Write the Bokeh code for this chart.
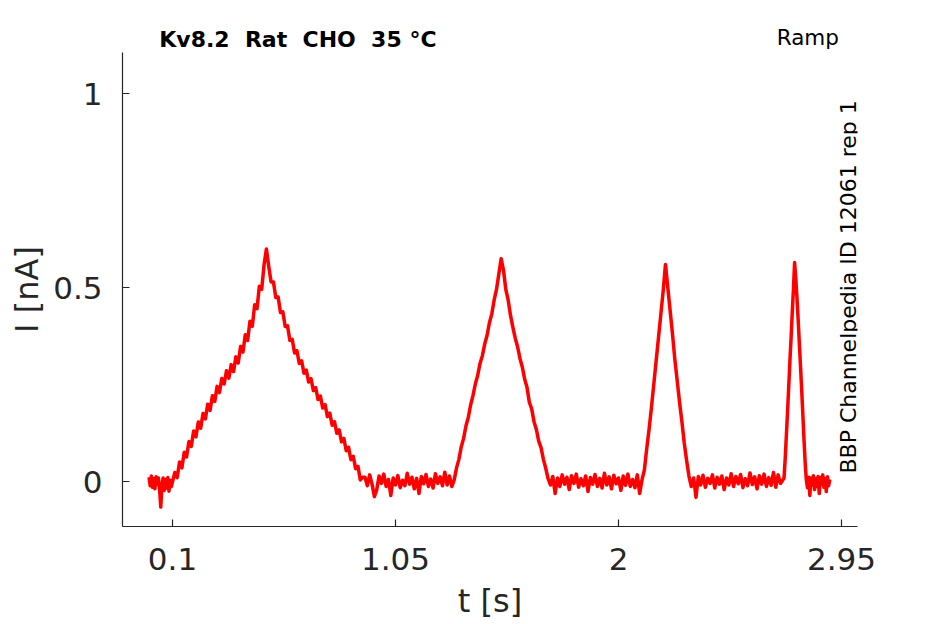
import numpy as np
from bokeh.plotting import figure
from bokeh.layouts import column
from bokeh.models import Range1d, FixedTicker, Label
from bokeh.embed import file_html
from bokeh.resources import INLINE

# ---------------- data ----------------
# segment A: baseline before first ramp
t_a = [0.000, 0.005, 0.010, 0.015, 0.020, 0.025, 0.030, 0.035, 0.040, 0.045,
       0.050, 0.055, 0.060, 0.065, 0.070, 0.075, 0.080, 0.085, 0.090, 0.095]
i_a = [0.012, -0.010, 0.015, -0.014, 0.008, -0.018, 0.013, -0.006, 0.010, -0.020,
       -0.065, -0.012, 0.010, -0.022, 0.006, -0.016, 0.011, -0.024, 0.004, -0.012]

# segment B: first ramp (slow), up and down
t_b = [0.10, 0.11, 0.12, 0.13, 0.14, 0.15, 0.16, 0.17, 0.18, 0.19,
       0.20, 0.21, 0.22, 0.23, 0.24, 0.25, 0.26, 0.27, 0.28, 0.29,
       0.30, 0.31, 0.32, 0.33, 0.34, 0.35, 0.36, 0.37, 0.38, 0.39,
       0.40, 0.41, 0.42, 0.43, 0.44, 0.45, 0.46, 0.47, 0.48, 0.49,
       0.50, 0.51, 0.52, 0.53, 0.54, 0.55, 0.56, 0.57, 0.58, 0.59,
       0.60, 0.61, 0.62, 0.63, 0.64, 0.65, 0.66, 0.67, 0.68, 0.69,
       0.70, 0.71, 0.72, 0.73, 0.74, 0.75, 0.76, 0.77, 0.78, 0.79,
       0.80, 0.81, 0.82, 0.83, 0.84, 0.85, 0.86, 0.87, 0.88, 0.89,
       0.90, 0.91]
i_b = [0.000, 0.024, 0.011, 0.051, 0.036, 0.076, 0.064, 0.104, 0.091, 0.131,
       0.116, 0.154, 0.138, 0.176, 0.162, 0.200, 0.184, 0.222, 0.207, 0.246,
       0.230, 0.266, 0.252, 0.286, 0.267, 0.302, 0.284, 0.322, 0.306, 0.349,
       0.334, 0.379, 0.364, 0.414, 0.401, 0.456, 0.446, 0.504, 0.496, 0.559,
       0.600, 0.555, 0.515, 0.515, 0.475, 0.476, 0.436, 0.438, 0.400, 0.402,
       0.364, 0.367, 0.332, 0.338, 0.305, 0.312, 0.280, 0.288, 0.257, 0.266,
       0.235, 0.243, 0.212, 0.221, 0.190, 0.199, 0.168, 0.177, 0.146, 0.155,
       0.125, 0.134, 0.103, 0.112, 0.080, 0.089, 0.057, 0.066, 0.034, 0.040,
       0.005, 0.012]

# segment C: baseline
t_c = [0.92, 0.93, 0.94, 0.95, 0.96, 0.97, 0.98, 0.99, 1.00, 1.01,
       1.02, 1.03, 1.04, 1.05, 1.06, 1.07, 1.08, 1.09, 1.10, 1.11,
       1.12, 1.13, 1.14, 1.15, 1.16, 1.17, 1.18, 1.19, 1.20, 1.21,
       1.22, 1.23, 1.24, 1.25, 1.26, 1.27, 1.28, 1.29]
i_c = [0.012, -0.010, 0.018, -0.006, -0.038, -0.020, 0.015, -0.004, 0.020, -0.012,
       0.006, -0.035, 0.010, -0.008, 0.016, -0.015, 0.004, -0.010, 0.022, -0.006,
       0.012, -0.018, 0.009, -0.030, 0.014, -0.005, 0.019, -0.012, 0.007, -0.016,
       0.021, -0.004, 0.013, -0.010, 0.025, -0.008, 0.015, -0.012]

# segment D: second ramp
t_d = [1.30, 1.31, 1.32, 1.33, 1.34, 1.35, 1.36, 1.37, 1.38, 1.39,
       1.40, 1.41, 1.42, 1.43, 1.44, 1.45, 1.46, 1.47, 1.48, 1.49,
       1.50, 1.51, 1.52, 1.53, 1.54, 1.55, 1.56, 1.57, 1.58, 1.59,
       1.60, 1.61, 1.62, 1.63, 1.64, 1.65, 1.66, 1.67, 1.68, 1.69,
       1.70]
i_d = [0.005, 0.036, 0.058, 0.090, 0.112, 0.144, 0.166, 0.198, 0.222, 0.252,
       0.274, 0.305, 0.325, 0.355, 0.377, 0.410, 0.432, 0.468, 0.495, 0.535,
       0.575, 0.545, 0.495, 0.468, 0.428, 0.398, 0.370, 0.348, 0.318, 0.296,
       0.265, 0.244, 0.205, 0.188, 0.155, 0.135, 0.105, 0.088, 0.058, 0.035,
       0.008]

# segment E: baseline
t_e = [1.71, 1.72, 1.73, 1.74, 1.75, 1.76, 1.77, 1.78, 1.79, 1.80,
       1.81, 1.82, 1.83, 1.84, 1.85, 1.86, 1.87, 1.88, 1.89, 1.90,
       1.91, 1.92, 1.93, 1.94, 1.95, 1.96, 1.97, 1.98, 1.99, 2.00,
       2.01, 2.02, 2.03, 2.04, 2.05, 2.06, 2.07, 2.08, 2.09]
i_e = [-0.008, 0.014, -0.030, 0.010, -0.012, 0.018, -0.006, 0.012, -0.020, 0.016,
       -0.004, 0.020, -0.014, 0.008, -0.010, 0.015, -0.025, 0.011, -0.006, 0.019,
       -0.012, 0.009, -0.016, 0.022, -0.008, 0.013, -0.018, 0.017, -0.005, 0.010,
       -0.022, 0.015, -0.009, 0.020, -0.012, 0.006, -0.015, 0.018, -0.030]

# segment F: third ramp
t_f = [2.10, 2.11, 2.12, 2.13, 2.14, 2.15, 2.16, 2.17, 2.18, 2.19,
       2.20, 2.21, 2.22, 2.23, 2.24, 2.25, 2.26, 2.27, 2.28, 2.29,
       2.30]
i_f = [0.005, 0.030, 0.085, 0.135, 0.190, 0.250, 0.310, 0.370, 0.430, 0.490,
       0.560, 0.500, 0.440, 0.380, 0.315, 0.260, 0.205, 0.155, 0.100, 0.055,
       0.015]

# segment G: baseline
t_g = [2.31, 2.32, 2.33, 2.34, 2.35, 2.36, 2.37, 2.38, 2.39, 2.40,
       2.41, 2.42, 2.43, 2.44, 2.45, 2.46, 2.47, 2.48, 2.49, 2.50,
       2.51, 2.52, 2.53, 2.54, 2.55, 2.56, 2.57, 2.58, 2.59, 2.60,
       2.61, 2.62, 2.63, 2.64, 2.65, 2.66, 2.67, 2.68, 2.69]
i_g = [-0.012, 0.010, -0.040, 0.014, -0.008, 0.017, -0.014, 0.009, -0.004, 0.018,
       -0.016, 0.012, -0.006, 0.015, -0.020, 0.010, -0.008, 0.021, -0.012, 0.014,
       -0.005, 0.019, -0.015, 0.008, -0.010, 0.023, -0.007, 0.013, -0.018, 0.016,
       -0.006, 0.020, -0.012, 0.011, -0.009, 0.024, -0.014, 0.018, -0.004]

# segment H: fourth ramp (fast)
t_h = [2.700, 2.705, 2.710, 2.715, 2.720, 2.725, 2.730, 2.735, 2.740, 2.745,
       2.750, 2.755, 2.760, 2.765, 2.770, 2.775, 2.780, 2.785, 2.790, 2.795,
       2.800]
i_h = [0.005, 0.010, 0.060, 0.120, 0.180, 0.245, 0.310, 0.370, 0.435, 0.495,
       0.565, 0.525, 0.475, 0.420, 0.360, 0.300, 0.240, 0.175, 0.110, 0.050,
       0.005]

# segment I: final baseline
t_i = [2.805, 2.810, 2.815, 2.820, 2.825, 2.830, 2.835, 2.840, 2.845, 2.850,
       2.855, 2.860, 2.865, 2.870, 2.875, 2.880, 2.885, 2.890, 2.895, 2.900]
i_i = [-0.015, 0.012, -0.035, 0.010, -0.008, 0.016, -0.020, 0.008, -0.012, 0.014,
       -0.030, 0.011, -0.006, 0.018, -0.014, 0.009, -0.025, 0.013, -0.010, 0.006]

x_ticks = [0.1, 1.05, 2, 2.95]
x_tick_labels = ["0.1", "1.05", "2", "2.95"]
y_ticks = [0, 0.5, 1]
y_tick_labels = ["0", "0.5", "1"]

title_text = "Kv8.2\u00a0 Rat\u00a0 CHO\u00a0 35 °C"
protocol_text = "Ramp"
side_text = "BBP Channelpedia ID 12061 rep 1"

t_all = t_a + t_b + t_c + t_d + t_e + t_f + t_g + t_h + t_i
i_all = i_a + i_b + i_c + i_d + i_e + i_f + i_g + i_h + i_i

# ---------------- figures ----------------
FONT = "DejaVu Sans"
INK = "#262626"
W = 940
X_RANGE = (-0.113, 3.018)
HEAD_H = 52

# header strip holding the title texts (above the axes box); same x scale
head = figure(width=W, height=HEAD_H, output_backend="svg", toolbar_location=None,
              x_range=Range1d(*X_RANGE), y_range=Range1d(0, HEAD_H),
              x_axis_type=None, y_axis_type=None,
              min_border_left=122, min_border_right=83, min_border_top=0,
              min_border_bottom=0)
head.title.visible = False
head.outline_line_color = None
head.grid.visible = False
head.add_layout(Label(x=0.0435, y=HEAD_H - 38.5, text=title_text, text_font=FONT,
                      text_font_style="bold", text_font_size="22px",
                      text_color="black", text_align="left",
                      text_baseline="middle"))
head.add_layout(Label(x=2.939, y=HEAD_H - 36.5, text=protocol_text, text_font=FONT,
                      text_font_size="21.5px", text_color="black",
                      text_align="right", text_baseline="middle"))

p = figure(width=W, height=623 - HEAD_H, output_backend="svg",
           toolbar_location=None,
           x_range=Range1d(*X_RANGE), y_range=Range1d(-0.115, 1.106),
           min_border_left=122, min_border_right=83, min_border_top=0,
           min_border_bottom=97)
p.title.visible = False
p.outline_line_color = None
p.grid.visible = False
p.background_fill_color = "white"
p.border_fill_color = "white"

p.line(t_all, i_all, line_color="#ff0000", line_width=3.5, line_join="round")

for ax in (p.xaxis[0], p.yaxis[0]):
    ax.axis_line_color = INK
    ax.axis_line_width = 1.2
    ax.major_tick_line_color = INK
    ax.major_tick_line_width = 1.2
    ax.major_tick_in = 7
    ax.major_tick_out = 0
    ax.minor_tick_line_color = None
    ax.major_label_text_font = FONT
    ax.major_label_text_font_size = "31px"
    ax.major_label_text_color = INK
    ax.axis_label_text_font = FONT
    ax.axis_label_text_font_size = "32px"
    ax.axis_label_text_font_style = "normal"
    ax.axis_label_text_color = INK

p.xaxis.ticker = FixedTicker(ticks=x_ticks)
p.xaxis.major_label_overrides = dict(zip(x_ticks, x_tick_labels))
p.xaxis.axis_label = "t [s]"
p.xaxis.major_label_standoff = 21
p.xaxis.axis_label_standoff = 9

p.yaxis.ticker = FixedTicker(ticks=y_ticks)
p.yaxis.major_label_overrides = dict(zip(y_ticks, y_tick_labels))
p.yaxis.axis_label = "I [nA]"
p.yaxis.major_label_standoff = 20
p.yaxis.axis_label_standoff = 4

# vertical note inside the axes box (screen px from the frame's bottom-left)
p.add_layout(Label(x=725.5, y=53, x_units="screen", y_units="screen",
                   text=side_text, text_font=FONT,
                   text_font_size="22px", text_color="black",
                   text_align="left", text_baseline="middle",
                   angle=np.pi / 2))

layout = column(head, p, spacing=0)
open("out.html", "w").write(file_html(layout, INLINE))
